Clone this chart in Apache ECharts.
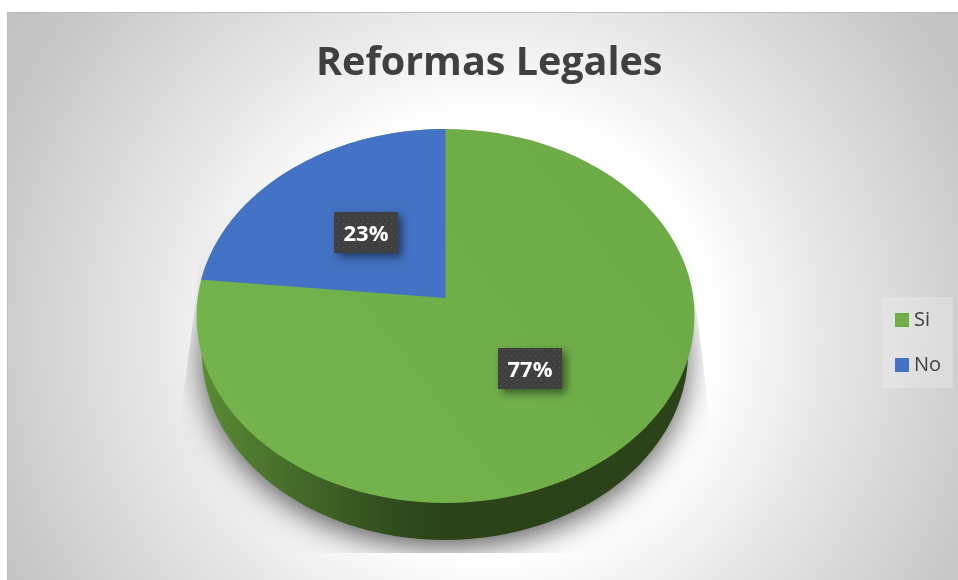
<!DOCTYPE html>
<html>
<head>
<meta charset="utf-8">
<style>html,body{margin:0;padding:0;background:#fff}#c{width:958px;height:580px}</style>
<script src="https://cdn.jsdelivr.net/npm/echarts@6/dist/echarts.min.js"></script>
</head>
<body>
<div id="c"></div>
<script>
const titleText = 'Reformas Legales';
const categories = ['Si', 'No'];
const values = [76.6, 23.4];
const colors = ['#70ad47', '#4472c4'];
const labelRadius = [0.485, 0.5];

const total = values.reduce((a, b) => a + b, 0);
// Perspective disc: top face ellipse and where the true centre lands
const CX = 445.5, CY = 316, RX = 249, RY = 187, PERSP = -0.096;
const SIDE = {cx: 445, cy: 352, rx: 243, ry: 188};

function project(angleDeg, r) {
  // angle measured clockwise from 12 o'clock on the undistorted disc
  const a = angleDeg * Math.PI / 180;
  const x = Math.sin(a) * r, y = -Math.cos(a) * r;
  const d = 1 + PERSP * y;
  return [CX + RX * x * Math.sqrt(1 - PERSP * PERSP) / d, CY + RY * (y + PERSP) / d];
}
function slicePoints(startDeg, endDeg) {
  const pts = [project(0, 0)];
  const n = Math.ceil(Math.abs(endDeg - startDeg) / 1);
  for (let i = 0; i <= n; i++) pts.push(project(startDeg + (endDeg - startDeg) * i / n, 1));
  return pts;
}
const dotCanvas = document.createElement('canvas');
dotCanvas.width = 6; dotCanvas.height = 6;
(function () {
  const g = dotCanvas.getContext('2d');
  g.fillStyle = '#3f3f3f'; g.fillRect(0, 0, 6, 6);
  g.fillStyle = '#525252'; g.fillRect(1, 1, 1.5, 1.5);
  g.fillStyle = '#484848'; g.fillRect(4, 4, 1.5, 1.5);
})();
function labelEls(mid, value, r) {
  const p = project(mid, r), w = 64, h = 41;
  const bx = Math.round(p[0] - w / 2) + 1, by = Math.round(p[1] - h / 2) + 1;
  return [
    {type: 'rect', shape: {x: bx, y: by, width: w, height: h},
     style: {fill: {image: dotCanvas, repeat: 'repeat'}, shadowColor: 'rgba(0,0,0,0.5)', shadowBlur: 9, shadowOffsetX: 4, shadowOffsetY: 4}},
    {type: 'text', style: {text: Math.round(value / total * 100) + '%', x: bx + w / 2, y: by + 22.5, align: 'center', verticalAlign: 'middle',
      fill: '#ffffff', font: 'bold 22px "Open Sans"'}}
  ];
}
function sliceRange(i) {
  if (i === 1) return [360 - values[1] / total * 360, 360];
  return [0, values[0] / total * 360];
}
function renderSlice(i) {
  return function (params, api) {
    const r = sliceRange(i), v = api.value(0), mid = (r[0] + r[1]) / 2;
    const kids = [];
    if (i === 0) {
      kids.push({type: 'ellipse', shape: SIDE, style: {fill: {type: 'linear', x: 200, y: 0, x2: 445, y2: 0, global: true,
        colorStops: [{offset: 0, color: '#5a8c34'}, {offset: 0.4, color: '#44692a'}, {offset: 0.85, color: '#2e481b'}, {offset: 1, color: '#2c4319'}]}}});
      kids.push({type: 'ellipse', shape: {cx: CX, cy: CY, rx: RX, ry: RY}, style: {fill: {type: 'linear', x: 260, y: 480, x2: 640, y2: 190, global: true,
        colorStops: [{offset: 0, color: '#74b34c'}, {offset: 1, color: '#6dab47'}]}}});
    } else {
      kids.push({type: 'polygon', shape: {points: slicePoints(r[0], r[1])}, style: {fill: colors[i]}});
    }
    kids.push(...labelEls(mid, v, labelRadius[i]));
    return {type: 'group', children: kids};
  };
}
const bgFill = {type: 'radial', x: 490, y: 335, r: 590, global: true, colorStops: [
  {offset: 0, color: '#ffffff'}, {offset: 0.373, color: '#ffffff'}, {offset: 0.56, color: '#e8e8e8'}, {offset: 0.868, color: '#c8c8c8'}, {offset: 1, color: '#c0c0c0'}]};

const chart = echarts.init(document.getElementById('c'), null, {renderer: 'canvas'});
chart.setOption({
  animation: false,
  backgroundColor: '#ffffff',
  title: {text: titleText, left: 316, top: 44, padding: 0, z: 6,
    textStyle: {fontFamily: 'Open Sans', fontWeight: 'bold', fontSize: 39.5, color: '#404040'}},
  legend: {data: categories, orient: 'vertical', left: 882, top: 297, padding: [13, 12, 13, 13], itemGap: 25, itemWidth: 14, itemHeight: 14,
    icon: 'rect', backgroundColor: 'rgba(255,255,255,0.22)', selectedMode: false,
    textStyle: {fontFamily: 'Open Sans', fontSize: 20, color: '#404040', padding: [0, 0, 0, 0]}},
  graphic: {elements: [
    {type: 'rect', z: 0, shape: {x: 7, y: 12, width: 951, height: 568}, style: {fill: bgFill}},
    {type: 'polyline', z: 0, shape: {points: [[7.5, 580], [7.5, 12.5], [958, 12.5]]}, style: {fill: 'none', stroke: '#bdbdbd', lineWidth: 1}},
    {type: 'ellipse', z: 0, shape: {cx: 445, cy: 352, rx: 241, ry: 186},
     style: {fill: '#888888', shadowColor: 'rgba(0,0,0,0.7)', shadowBlur: 32, shadowOffsetY: 8}},
    {type: 'polygon', z: 0, shape: {points: [[8, 13], [197, 13], [197, 290], [180, 420], [180, 553], [8, 553]]}, style: {fill: bgFill}},
    {type: 'polygon', z: 0, shape: {points: [[694, 13], [694, 290], [710, 420], [710, 553], [958, 553], [958, 13]]}, style: {fill: bgFill}},
    {type: 'rect', z: 0, shape: {x: 8, y: 553, width: 950, height: 27}, style: {fill: bgFill}}
  ]},
  series: categories.map((name, i) => ({
    type: 'custom', name, coordinateSystem: 'none', silent: true,
    itemStyle: {color: colors[i]},
    data: [[values[i]]],
    renderItem: renderSlice(i)
  }))
});
</script>
</body>
</html>
